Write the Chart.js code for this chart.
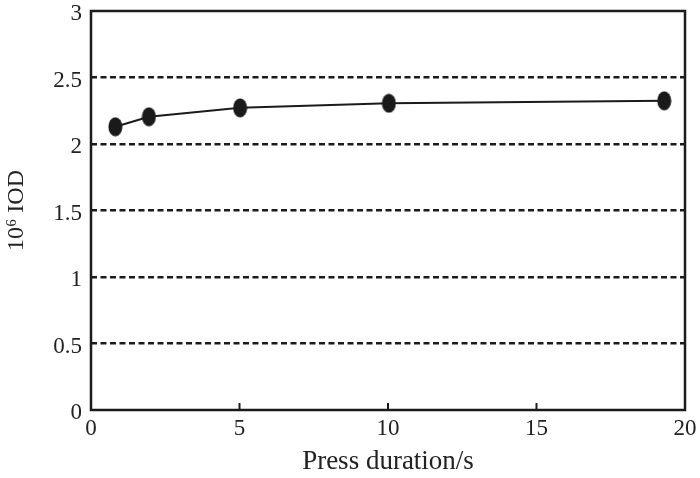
<!DOCTYPE html>
<html>
<head>
<meta charset="utf-8">
<script src="https://cdn.jsdelivr.net/npm/chart.js@4"></script>
<style>
html,body{margin:0;padding:0;background:#fff;}
#wrap{width:700px;height:478px;}
</style>
</head>
<body>
<div id="wrap"><canvas id="c" width="700" height="478"></canvas></div>
<script>
const pressDuration = [0.82, 1.95, 5.02, 10.03, 19.3];
const iodValues = [2.13, 2.205, 2.272, 2.306, 2.325];
const xTickValues = [0, 5, 10, 15, 20];
const yTickValues = [0, 0.5, 1, 1.5, 2, 2.5, 3];
const xTitle = 'Press duration/s';
const yTitle = '10\u2076 IOD';

const ink = '#1b1b1b';
const fontFam = '"Liberation Serif", "Times New Roman", serif';

// ellipse marker
const mk = document.createElement('canvas');
mk.width = 15; mk.height = 20;
(function(){
  const g = mk.getContext('2d');
  g.fillStyle = '#1a1a1a';
  g.beginPath();
  g.ellipse(7.5, 10, 7, 9.6, 0, 0, Math.PI*2);
  g.fill();
})();

const framePlugin = {
  id: 'frame',
  beforeDatasetsDraw(chart) {
    const {ctx, chartArea: a, scales} = chart;
    ctx.save();
    ctx.strokeStyle = ink;
    ctx.lineWidth = 2.5;
    ctx.strokeRect(a.left, a.top, a.right - a.left, a.bottom - a.top);
    ctx.lineWidth = 2;
    xTickValues.forEach(v => {
      if (v === 0 || v === 20) return;
      const px = scales.x.getPixelForValue(v);
      ctx.beginPath();
      ctx.moveTo(px, a.bottom);
      ctx.lineTo(px, a.bottom - 7);
      ctx.stroke();
    });
    ctx.restore();
  }
};

new Chart(document.getElementById('c'), {
  type: 'scatter',
  data: {
    datasets: [{
      data: pressDuration.map((x, i) => ({x, y: iodValues[i]})),
      showLine: true,
      borderColor: ink,
      borderWidth: 2,
      pointStyle: mk,
      pointRadius: 7,
      pointHoverRadius: 7,
      tension: 0
    }]
  },
  options: {
    responsive: false,
    animation: false,
    events: [],
    layout: {padding: {left: 0, top: 11, right: 15, bottom: 0}},
    plugins: {legend: {display: false}, tooltip: {enabled: false}},
    scales: {
      x: {
        type: 'linear', min: 0, max: 20,
        afterBuildTicks(s) { s.ticks = xTickValues.map(v => ({value: v})); },
        afterFit(s) { s.height = 68; s.paddingLeft = 0; s.paddingRight = 0; },
        grid: {display: false, drawTicks: false},
        border: {display: false},
        ticks: {color: '#222', font: {family: fontFam, size: 23}, padding: 5, maxRotation: 0},
        title: {display: true, text: xTitle, color: '#222', font: {family: fontFam, size: 27}, padding: {top: 3, bottom: 0}}
      },
      y: {
        type: 'linear', min: 0, max: 3,
        afterBuildTicks(s) { s.ticks = yTickValues.map(v => ({value: v})); },
        afterFit(s) { s.width = 91; s.paddingTop = 0; s.paddingBottom = 0; },
        grid: {
          drawTicks: false,
          color: c => (c.tick && (c.tick.value === 0 || c.tick.value === 3)) ? 'rgba(0,0,0,0)' : ink,
          lineWidth: 2.5
        },
        border: {display: false, dash: [6, 3.5]},
        ticks: {
          color: '#222',
          font: {family: fontFam, size: 23, lineHeight: 0.26},
          padding: 9,
          callback: v => ['', String(v)]
        },
        title: {display: true, text: yTitle, color: '#222', font: {family: fontFam, size: 24}, padding: {top: 2, bottom: 4}}
      }
    }
  },
  plugins: [framePlugin]
});
</script>
</body>
</html>
